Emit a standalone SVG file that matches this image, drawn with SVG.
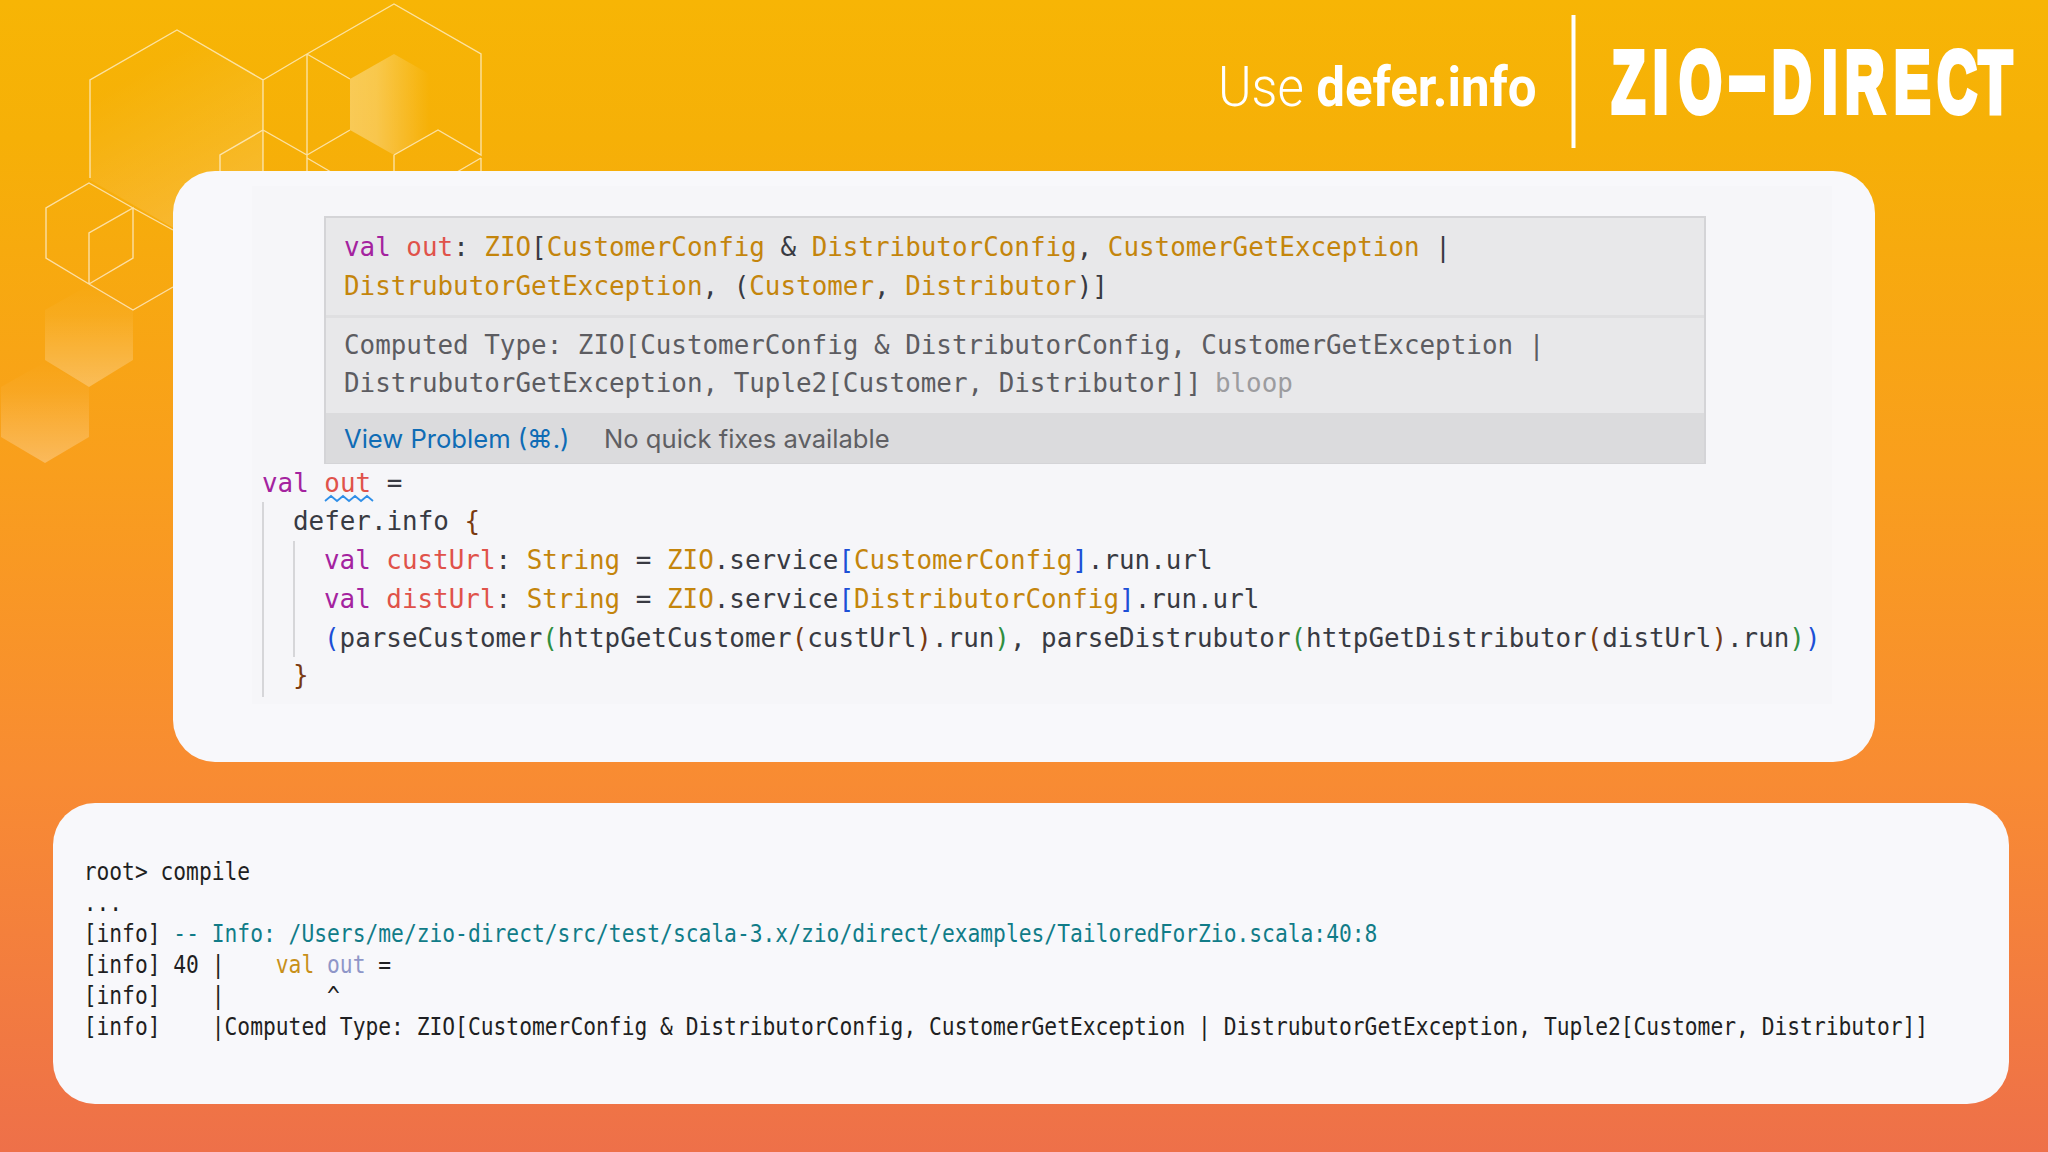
<svg xmlns="http://www.w3.org/2000/svg" width="2048" height="1152" viewBox="0 0 2048 1152">
<defs>
<linearGradient id="bg" x1="0" y1="0" x2="0" y2="1">
<stop offset="0" stop-color="#f7b505"/><stop offset="0.12" stop-color="#f6b007"/><stop offset="0.4" stop-color="#f99f1c"/><stop offset="0.68" stop-color="#f88b33"/><stop offset="1" stop-color="#ee7049"/>
</linearGradient>
<linearGradient id="fadeUp" x1="0" y1="1" x2="0" y2="0">
<stop offset="0" stop-color="#fff" stop-opacity=".28"/><stop offset=".7" stop-color="#fff" stop-opacity=".05"/><stop offset="1" stop-color="#fff" stop-opacity="0"/>
</linearGradient>
<linearGradient id="fadeRight" x1="0" y1="0" x2="1" y2="0">
<stop offset="0" stop-color="#fff" stop-opacity=".32"/><stop offset=".3" stop-color="#fff" stop-opacity=".28"/><stop offset=".9" stop-color="#fff" stop-opacity="0"/>
</linearGradient>
<linearGradient id="bigHex" x1="0.3" y1="0.2" x2="0.7" y2="1">
<stop offset="0" stop-color="#fff" stop-opacity="0"/><stop offset="1" stop-color="#fff" stop-opacity=".16"/>
</linearGradient>
</defs>
<style>
text{white-space:pre}
.code{font-family:"DejaVu Sans Mono","Liberation Mono",monospace;font-size:25.9px;fill:#383a42}
.term{font-family:"DejaVu Sans Mono","Liberation Mono",monospace;font-size:24px;fill:#1f1f22}
.ui{font-family:"Inter","Liberation Sans",sans-serif;font-size:25.6px}
.k{fill:#a4239f}.v{fill:#e0524a}.t{fill:#c4850c}.b1{fill:#1d4fd6}.b2{fill:#2f8f3f}.b3{fill:#7a3a10}
.g{fill:#5c5c61}.teal{fill:#117c88}.tv{fill:#c8901a}.to{fill:#8f96c8}
.hex{fill:none;stroke:#fff;stroke-opacity:.62;stroke-width:1.4}
.guide{stroke:#d6d6d9;stroke-width:2}
</style>
<rect width="2048" height="1152" fill="url(#bg)"/>

<g id="hexagons">
<polygon points="177,30 263,80 263,180 177,230 90,180 90,80" fill="url(#bigHex)"/>
<polygon points="89,285 133,310 133,360 89,387 45,360 45,310" fill="url(#fadeUp)"/>
<polygon points="45,362 89,387 89,437 45,463 1,437 1,387" fill="url(#fadeUp)"/>
<polygon points="394,54 438,79 438,130 394,155 350,130 350,79" fill="url(#fadeRight)"/>
<path class="hex" d="M90,178V80L177,30L263,80V172M263,80L307,54L394,4L481,54V155L438,130L394,155M350,130L307,155L263,130L220,155V172M307,54V172M307,54L350,79M307,158L331,172M394,155V172M481,158L457,172M481,158V172"/>
<path class="hex" d="M173,230L133,208L89,183L46,208V258L89,284L133,310L173,287M89,284V233L133,208V258L89,284"/>
</g>

<g id="code-card">
<rect x="173" y="171" width="1702" height="591" rx="42" fill="#f8f8fb"/>
<rect x="252" y="186" width="1580" height="518" fill="#f6f6f9"/>
<g id="hover">
<rect x="325" y="217" width="1380" height="246" fill="#e8e8ea" stroke="#d4d4d7" stroke-width="2"/>
<rect x="326" y="315" width="1378" height="3" fill="#dfdfe1"/>
<rect x="326" y="413" width="1378" height="50" fill="#dbdbdd"/>
<text class="code" x="344" y="256"><tspan class="k">val</tspan> <tspan class="v">out</tspan>: <tspan class="t">ZIO</tspan>[<tspan class="t">CustomerConfig</tspan> &amp; <tspan class="t">DistributorConfig</tspan>, <tspan class="t">CustomerGetException</tspan> |</text>
<text class="code" x="344" y="295"><tspan class="t">DistrubutorGetException</tspan>, (<tspan class="t">Customer</tspan>, <tspan class="t">Distributor</tspan>)]</text>
<text class="code g" x="344" y="354">Computed Type: ZIO[CustomerConfig &amp; DistributorConfig, CustomerGetException |</text>
<text class="code g" x="344" y="392">DistrubutorGetException, Tuple2[Customer, Distributor]]<tspan fill="#9c9c9f" dx="-2"> bloop</tspan></text>
<text class="ui" x="344" y="448" fill="#0f6cb5">View Problem (⌘.)</text>
<text class="ui" x="604" y="448" fill="#5f5f63">No quick fixes available</text>
</g>
<g id="editor">
<line class="guide" x1="263" y1="502" x2="263" y2="697"/>
<line class="guide" x1="294" y1="541" x2="294" y2="657"/>
<text class="code" x="262" y="492"><tspan class="k">val</tspan> <tspan class="v">out</tspan> =</text>
<path d="M325,501l6,-5l6,5l6,-5l6,5l6,-5l6,5l6,-5l6,5" fill="none" stroke="#2f8fe8" stroke-width="1.8"/>
<text class="code" x="293" y="530">defer.info <tspan class="b3">{</tspan></text>
<text class="code" x="324" y="569"><tspan class="k">val</tspan> <tspan class="v">custUrl</tspan>: <tspan class="t">String</tspan> = <tspan class="t">ZIO</tspan>.service<tspan class="b1">[</tspan><tspan class="t">CustomerConfig</tspan><tspan class="b1">]</tspan>.run.url</text>
<text class="code" x="324" y="608"><tspan class="k">val</tspan> <tspan class="v">distUrl</tspan>: <tspan class="t">String</tspan> = <tspan class="t">ZIO</tspan>.service<tspan class="b1">[</tspan><tspan class="t">DistributorConfig</tspan><tspan class="b1">]</tspan>.run.url</text>
<text class="code" x="324" y="646.500"><tspan class="b1">(</tspan>parseCustomer<tspan class="b2">(</tspan>httpGetCustomer<tspan class="b3">(</tspan>custUrl<tspan class="b3">)</tspan>.run<tspan class="b2">)</tspan>, parseDistrubutor<tspan class="b2">(</tspan>httpGetDistributor<tspan class="b3">(</tspan>distUrl<tspan class="b3">)</tspan>.run<tspan class="b2">)</tspan><tspan class="b1">)</tspan></text>
<text class="code b3" x="293" y="684">}</text>
</g>
</g>

<g id="terminal-card">
<rect x="53" y="803" width="1956" height="301" rx="42" fill="#f8f8fb"/>
<g transform="scale(.887,1)">
<text class="term" x="94.300" y="880">root&gt; compile</text>
<text class="term" x="94.300" y="911">...</text>
<text class="term" x="94.300" y="942">[info] <tspan class="teal">-- Info: /Users/me/zio-direct/src/test/scala-3.x/zio/direct/examples/TailoredForZio.scala:40:8</tspan></text>
<text class="term" x="94.300" y="973">[info] 40 |    <tspan class="tv">val</tspan> <tspan class="to">out</tspan> =</text>
<text class="term" x="94.300" y="1004">[info]    |        ^</text>
<text class="term" x="94.300" y="1035.500">[info]    |Computed Type: ZIO[CustomerConfig &amp; DistributorConfig, CustomerGetException | DistrubutorGetException, Tuple2[Customer, Distributor]]</text>
</g>
</g>

<g id="header">
<text transform="translate(1218,106) scale(.912,1)" font-family="Roboto,'Liberation Sans',sans-serif" font-size="56" font-weight="300" fill="#fff">Use <tspan font-weight="700">defer.info</tspan></text>
<rect x="1571.500" y="15" width="4" height="133" fill="#fff"/>
<text transform="scale(.62,1)" x="2599.7 2666.3 2708.4 2788.7 2858.2 2939 2976 3055 3124.5 3191.6" y="112" font-family="'Liberation Sans',Arial,sans-serif" font-weight="700" font-size="88" fill="#fff" stroke="#fff" stroke-width="6">ZIO<tspan font-size="105">–</tspan>DIRECT</text>
</g>
</svg>
